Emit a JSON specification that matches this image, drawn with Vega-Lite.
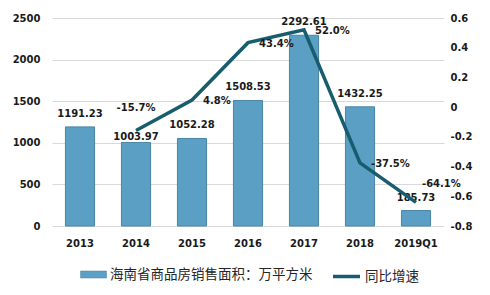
{
  "$schema": "https://vega.github.io/schema/vega-lite/v6.json",
  "autosize": {"type": "none"},
  "width": 392,
  "height": 208,
  "padding": {"left": 52, "top": 18, "right": 46, "bottom": 69},
  "background": "white",
  "config": {
    "view": {"stroke": null},
    "font": "DejaVu Sans",
    "axis": {"labelFont": "DejaVu Sans", "labelFontWeight": "bold", "labelFontSize": 10, "labelColor": "#1a1a1a", "domain": false, "ticks": false, "title": null},
    "legend": {"labelFont": "Noto Sans CJK SC", "labelFontSize": 13.5, "labelColor": "#262626", "padding": 0, "title": null, "labelOffset": 3, "labelLimit": 400}
  },
  "data": {
    "values": [
      {"year": "2013", "area": 1191.23, "growth": null},
      {"year": "2014", "area": 1003.97, "growth": -0.157},
      {"year": "2015", "area": 1052.28, "growth": 0.048},
      {"year": "2016", "area": 1508.53, "growth": 0.434},
      {"year": "2017", "area": 2292.61, "growth": 0.520},
      {"year": "2018", "area": 1432.25, "growth": -0.375},
      {"year": "2019Q1", "area": 185.73, "growth": -0.641}
    ]
  },
  "encoding": {
    "x": {"field": "year", "type": "ordinal", "sort": null, "scale": {"paddingInner": 0.48, "paddingOuter": 0.24}, "axis": {"labelAngle": 0, "labelPadding": 12}}
  },
  "layer": [
    {
      "encoding": {
        "y": {"field": "area", "type": "quantitative", "scale": {"domain": [0, 2500]}, "axis": {"values": [0, 500, 1000, 1500, 2000, 2500], "format": "d", "grid": true, "gridColor": "#d9d9d9", "labelPadding": 12}}
      },
      "layer": [
        {
          "mark": {"type": "bar", "stroke": "#4a85a5", "strokeWidth": 1},
          "encoding": {
            "color": {"datum": "海南省商品房销售面积：万平方米", "type": "nominal", "scale": {"range": ["#5b9fc4"]}, "legend": {"orient": "none", "legendX": 28, "legendY": 243, "symbolType": "M-1,-0.27H1V0.27H-1Z", "symbolSize": 676, "symbolStrokeColor": "#4a85a5", "symbolStrokeWidth": 0.5}}
          }
        },
        {
          "transform": [{"filter": "datum.year !== '2014'"}],
          "mark": {"type": "text", "dy": -13, "fontWeight": "bold", "fontSize": 10, "color": "#1a1a1a"},
          "encoding": {"text": {"field": "area", "type": "quantitative", "format": ".2f"}}
        },
        {
          "transform": [{"filter": "datum.year === '2014'"}],
          "mark": {"type": "text", "dy": -5, "fontWeight": "bold", "fontSize": 10, "color": "#1a1a1a"},
          "encoding": {"text": {"field": "area", "type": "quantitative", "format": ".2f"}}
        }
      ]
    },
    {
      "transform": [
        {"filter": "datum.growth != null"},
        {"calculate": "replace(format(datum.growth, '.1%'), '\u2212', '-')", "as": "glabel"}
      ],
      "encoding": {
        "y": {"field": "growth", "type": "quantitative", "scale": {"domain": [-0.8, 0.6]}, "axis": {"orient": "right", "values": [-0.8, -0.6, -0.4, -0.2, 0, 0.2, 0.4, 0.6], "labelExpr": "replace(format(datum.value, '.1~f'), '\u2212', '-')", "grid": false, "labelPadding": 6}}
      },
      "layer": [
        {
          "mark": {"type": "line", "strokeWidth": 3.5, "strokeJoin": "miter"},
          "encoding": {
            "color": {"datum": "同比增速", "type": "nominal", "scale": {"range": ["#175d6e"]}, "legend": {"orient": "none", "legendX": 279, "legendY": 243, "symbolType": "stroke", "symbolSize": 729, "symbolStrokeWidth": 3.5}}
          }
        },
        {
          "transform": [{"filter": "datum.year === '2014'"}],
          "mark": {"type": "text", "dy": -22, "fontWeight": "bold", "fontSize": 10, "color": "#1a1a1a"},
          "encoding": {"text": {"field": "glabel"}}
        },
        {
          "transform": [{"filter": "datum.year !== '2014' && datum.year !== '2019Q1'"}],
          "mark": {"type": "text", "align": "left", "dx": 11, "dy": 1, "fontWeight": "bold", "fontSize": 10, "color": "#1a1a1a"},
          "encoding": {"text": {"field": "glabel"}}
        },
        {
          "transform": [{"filter": "datum.year === '2019Q1'"}],
          "mark": {"type": "text", "align": "left", "dx": 6, "dy": -18, "fontWeight": "bold", "fontSize": 10, "color": "#1a1a1a"},
          "encoding": {"text": {"field": "glabel"}}
        }
      ]
    }
  ],
  "resolve": {"scale": {"y": "independent", "color": "independent"}}
}
